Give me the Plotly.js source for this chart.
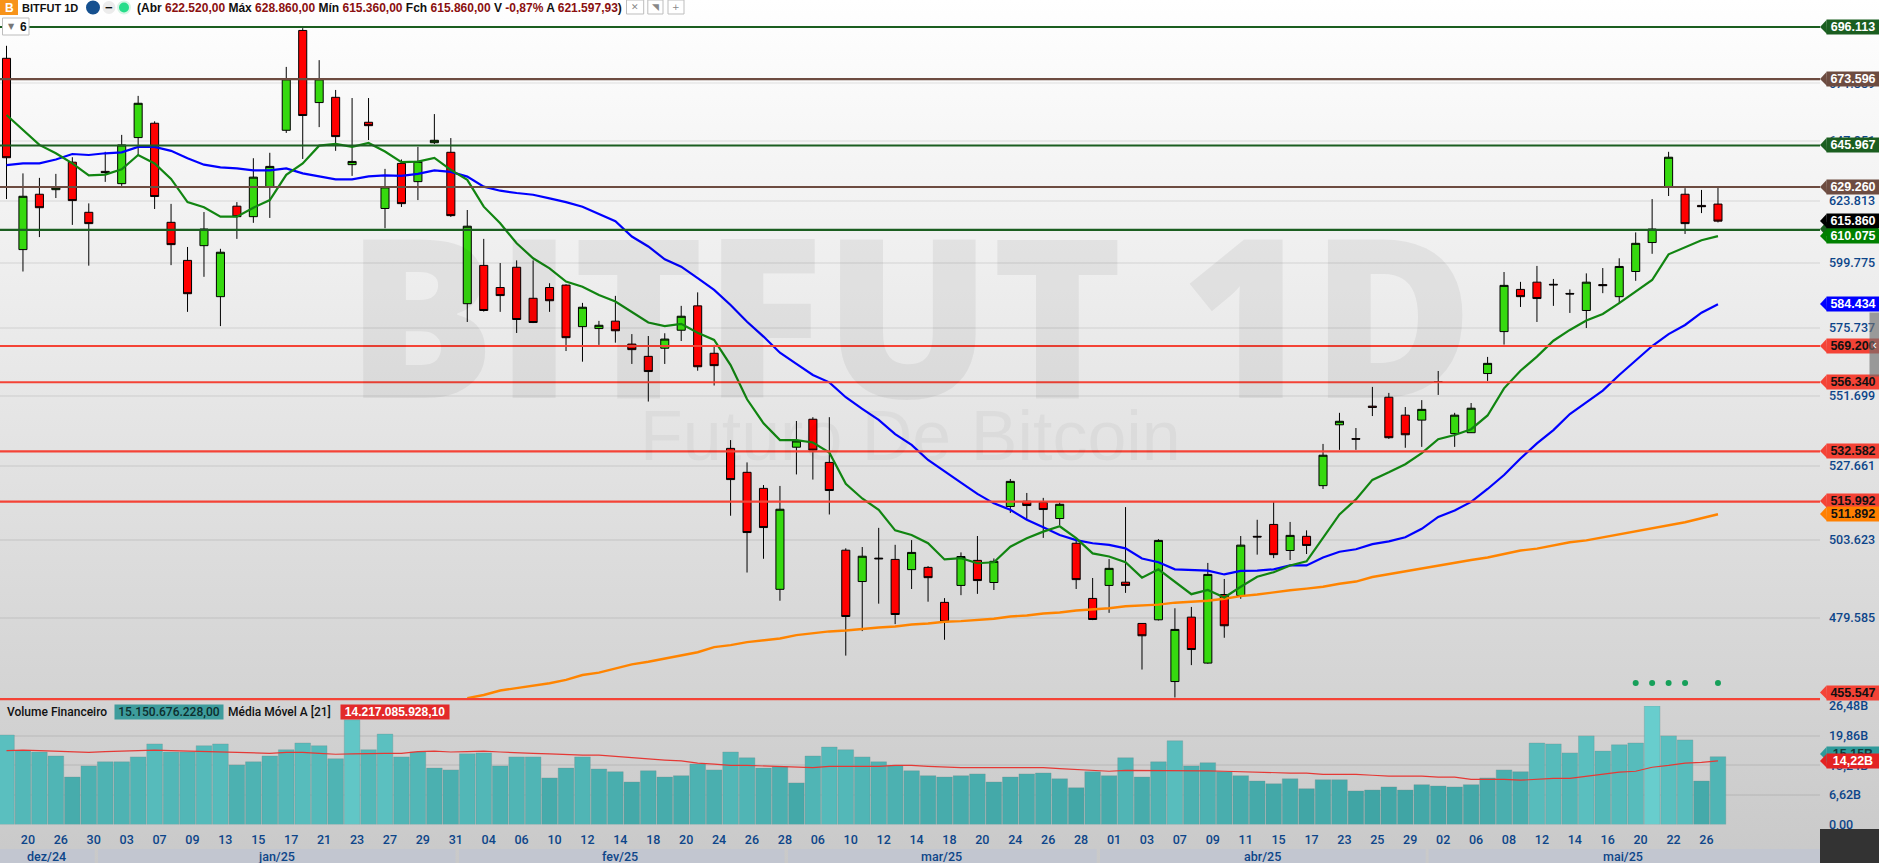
<!DOCTYPE html>
<html><head><meta charset="utf-8">
<script src="https://cdn.plot.ly/plotly-3.0.1.min.js"></script>
<style>html,body{margin:0;padding:0;overflow:hidden;background:#fff}
#c{width:1879px;height:863px;background:linear-gradient(#ffffff 0,#c9c9c9 863px)}</style>
</head><body><div id="c"></div>
<script>
const open_ = [682.5,604.9,626.4,628.2,639.2,619.3,635.5,630.6,649.2,655.1,615.4,600.8,606.4,587.2,621.7,617.6,629.1,652.2,694.6,663.7,665.9,638.2,655.5,620.8,638.7,631.4,647.1,643.2,584.6,598.9,590.6,598.2,586.6,590.6,591.5,576.2,575.5,578.2,569.9,565.5,568.4,574.9,583.8,566.6,533.6,525.6,520.3,488.2,534.0,543.5,528.9,500.4,490.6,497.9,497.5,494.3,495.0,484.2,489.4,497.2,490.3,514.4,516.1,515.7,510.5,502.6,485.4,489.4,490.4,477.8,478.9,460.6,479.7,466.0,486.6,486.3,504.8,508.6,500.3,504.8,521.2,541.6,536.9,548.0,551.1,544.9,543.2,556.5,538.6,538.9,559.4,574.4,589.9,592.6,591.8,588.4,582.1,591.7,587.2,596.6,607.6,629.4,626.4,622.0,622.52];
const high = [687.9,634.7,632.9,634.5,641.2,622.8,643.4,650.3,666.5,655.9,622.6,605.9,619.4,605.2,623.3,640.8,643.0,678.8,695.6,681.7,669.0,665.6,665.6,636.5,640.3,645.4,658.9,649.0,620.2,609.0,599.8,600.8,600.8,592.2,591.8,584.9,578.3,587.5,573.5,572.8,573.8,583.8,588.8,569.6,536.4,528.9,521.4,521.1,542.9,544.2,544.2,501.0,501.4,507.5,502.1,503.6,495.4,485.5,499.7,504.9,497.8,523.4,518.8,517.2,515.7,503.6,491.7,497.6,514.2,477.9,503.9,482.4,482.8,496.4,491.4,504.9,510.1,515.9,509.4,506.7,535.1,545.7,540.5,554.7,552.6,547.7,550.1,560.3,545.7,549.1,565.3,596.4,592.7,598.7,593.8,589.9,595.9,597.9,601.6,611.5,624.5,643.4,628.8,628.1,628.86];
const low = [624.5,596.6,609.7,624.9,614.4,598.8,631.3,629.7,642.1,620.6,599.0,581.6,594.6,576.4,609.0,615.2,617.1,651.1,640.5,653.5,643.8,633.7,648.2,613.1,621.4,624.1,646.6,617.5,577.9,581.7,581.6,573.9,577.5,581.6,567.4,563.6,569.6,570.4,562.8,549.6,562.8,571.0,560.4,555.2,511.4,493.4,497.7,484.7,524.9,523.2,511.8,468.2,475.5,483.8,477.6,488.3,484.4,472.9,486.4,486.8,488.0,512.3,510.1,504.3,508.4,488.3,478.8,481.0,487.1,464.1,478.7,456.0,465.4,465.8,473.5,485.3,499.0,497.9,497.3,499.2,520.1,533.1,533.1,544.6,536.8,533.8,534.1,551.9,534.1,538.8,556.8,569.7,583.4,577.9,583.8,581.2,575.7,588.5,584.7,593.1,603.3,625.7,610.9,619.0,615.36];
const close_ = [641.0,625.6,621.1,629.0,623.9,614.9,635.0,646.2,663.4,625.5,606.8,588.3,612.8,603.9,617.6,633.2,637.5,673.7,658.3,673.7,649.6,639.5,654.1,629.3,622.7,639.5,648.1,618.0,613.9,582.1,587.6,578.8,577.7,585.7,572.2,583.3,576.7,574.7,567.9,560.1,571.7,580.0,561.8,562.2,523.2,506.0,507.6,513.5,536.1,533.0,519.6,479.9,498.5,497.7,480.5,499.7,491.8,478.3,498.4,490.9,496.9,522.6,514.7,513.4,515.1,491.2,479.0,494.7,489.4,474.1,503.5,476.0,470.0,492.8,477.1,502.0,504.6,499.0,505.1,501.9,531.3,542.8,536.7,547.6,537.2,538.2,546.9,556.3,544.9,547.3,563.0,591.4,587.2,586.5,591.6,588.2,592.6,591.3,598.5,607.3,612.8,641.2,614.9,621.5,615.86];
const maGreen = [658.5,652.3,646.2,642.8,638.7,633.9,634.2,636.3,642.1,638.7,632.5,623.3,621.3,617.6,617.6,621.1,624.1,634.1,638.7,645.9,646.6,645.4,647.0,643.5,639.2,639.4,640.9,636.1,632.1,621.5,615.0,607.3,601.6,597.8,592.8,590.9,587.8,585.4,581.5,577.7,576.4,577.2,574.0,571.4,562.4,550.4,542.1,536.4,536.4,535.6,532.2,521.8,517.0,513.3,506.7,505.2,502.6,497.5,497.9,496.3,496.6,501.5,504.2,506.3,508.0,504.2,499.4,498.4,496.6,491.8,494.4,490.6,486.7,488.0,485.7,489.0,492.1,493.5,495.6,496.9,504.2,511.8,516.7,523.1,525.6,528.3,532.0,536.7,538.1,540.1,544.8,554.2,560.4,565.4,571.1,575.0,578.4,580.8,584.8,589.1,593.4,603.1,605.7,608.5,610.075];
const maBlue = [638.0,638.7,638.7,640.3,642.5,642.1,642.8,643.2,645.4,645.4,643.8,640.8,638.2,637.1,636.7,635.9,635.9,636.7,634.7,633.4,632.3,632.3,633.5,633.9,633.7,634.5,635.9,635.3,633.4,629.4,627.8,626.9,626.2,624.8,623.3,621.5,618.7,615.8,609.9,606.1,601.2,598.4,594.1,589.7,584.1,578.0,572.6,566.8,562.8,558.9,556.3,551.1,547.1,543.3,538.4,534.8,529.7,525.8,522.2,518.5,515.4,513.3,510.1,507.7,505.2,503.6,502.6,502.1,501.0,497.8,496.6,494.4,494.2,494.0,492.8,493.9,494.0,494.4,495.6,495.6,498.1,499.9,500.7,502.3,503.2,504.5,507.2,511.0,513.1,515.9,520.1,524.7,530.2,535.3,539.8,545.3,549.3,553.4,558.9,564.0,569.2,573.5,576.8,581.3,584.434];
const maOrange = [null,null,null,null,null,null,null,null,null,null,null,null,null,null,null,null,null,null,null,null,null,null,null,null,null,null,null,null,455.8,456.7,458.0,458.7,459.3,460.1,461.1,462.5,463.2,464.5,465.6,466.4,467.4,468.4,469.2,470.7,471.3,472.2,472.7,473.3,474.3,474.9,475.4,475.7,476.2,476.6,476.9,477.5,477.8,478.3,478.5,478.8,479.2,479.9,480.2,480.8,481.1,481.7,482.0,482.4,483.0,483.2,483.5,484.1,484.4,484.7,485.3,486.1,486.6,487.3,487.9,488.4,489.0,489.9,490.6,492.0,492.9,493.9,494.7,495.5,496.4,497.3,498.1,499.2,500.3,500.9,501.9,502.9,503.5,504.5,505.4,506.4,507.3,508.3,509.3,510.6,511.892];
const volume = [20.0,16.5,16.2,15.3,10.6,13.1,14.0,14.0,15.1,18.0,16.2,16.2,17.6,18.0,13.3,14.0,15.3,16.7,18.2,17.6,14.7,23.4,16.7,20.2,15.1,16.2,12.6,12.2,15.8,16.0,13.1,15.1,15.1,10.4,12.6,15.1,12.4,11.8,9.5,12.0,10.6,10.9,13.5,12.2,16.2,14.9,12.6,12.9,9.3,15.3,17.3,16.7,15.1,14.0,13.1,12.0,10.9,10.6,10.9,11.3,9.5,10.6,11.3,11.5,10.2,8.2,11.8,10.9,14.9,10.6,14.0,18.7,13.1,13.8,11.8,10.9,9.7,9.1,10.2,8.0,10.0,10.0,7.5,7.7,8.4,7.7,8.9,8.6,8.4,8.9,10.4,12.2,11.8,18.2,18.0,16.0,19.8,16.4,17.8,18.2,26.48,19.8,18.9,9.7,15.15];
const volumeMA = [16.5,16.6,16.5,16.4,16.3,16.1,16.3,16.4,16.5,16.6,16.5,16.4,16.3,16.2,16.1,15.9,15.9,16.1,16.1,15.9,15.7,15.8,15.9,15.9,15.9,16.3,16.4,16.2,16.3,16.4,16.2,16.0,15.9,15.8,15.6,15.5,15.5,15.2,14.9,14.7,14.4,14.2,13.7,13.5,13.2,13.2,13.1,12.9,12.8,12.7,13.0,13.0,13.0,13.0,13.2,13.2,13.0,12.8,12.7,12.7,12.7,12.7,12.7,12.7,12.5,12.3,12.0,11.9,12.1,12.1,12.1,12.1,12.1,12.0,11.9,11.8,11.7,11.5,11.5,11.5,11.2,11.2,11.2,11.0,10.8,10.8,10.8,10.6,10.6,10.1,10.1,10.1,9.9,10.1,10.3,10.3,10.8,11.2,11.7,11.9,12.8,13.2,13.7,13.9,14.22];
const dotIndex = [99,100,101,102,104];
const dotValue = [460.2,460.2,460.2,460.2,460.2];
const levelValues = [696.113,673.596,645.967,629.26,612.5,569.2,556.34,532.582,515.992,455.547];
const levelColors = ['#1b5e20','#6d4c41','#1b5e20','#6d4c41','#1b5e20','#f44336','#f44336','#f44336','#f44336','#f44336'];
const gridPrices = [671.889,647.851,623.813,599.775,575.737,551.699,527.661,503.623,479.585];
const gridLabels = ['671.889','647.851','623.813','599.775','575.737','551.699','527.661','503.623','479.585'];
const volTicks = [0,6.62,13.24,19.86,26.48];
const volTickLabels = ['0,00','6,62B','13,24B','19,86B','26,48B'];
const dateLabels = ['20','26','30','03','07','09','13','15','17','21','23','27','29','31','04','06','10','12','14','18','20','24','26','28','06','10','12','14','18','20','24','26','28','01','03','07','09','11','15','17','23','25','29','02','06','08','12','14','16','20','22','26'];
const monthLabels = ['dez/24','jan/25','fev/25','mar/25','abr/25','mai/25'];
const monthStart = [0,98,459,788,1100,1428.6];
const monthEnd = [94.7,455.5,784.5,1096.7,1425.7,1820];
const monthCenter = [46.5,276,620.4,941.6,1262,1623];
const tagText = ['696.113','673.596','645.967','629.260','615.860','610.075','584.434','569.200','556.340','532.582','515.992','511.892','455.547','15,15B','14,22B'];
const tagY = [27,79,145,187,221,236,304,346,382,451,501,514,692.5,754,761];
const tagBg = ['#1b5e20','#6d4c41','#1b5e20','#6d4c41','#000000','#008000','#0000ff','#f44336','#f44336','#f44336','#f44336','#ff8000','#f44336','#2f9a9a','#e32222'];
const tagFg = ['#fff','#fff','#fff','#fff','#fff','#fff','#fff','#111','#111','#111','#111','#111','#111','#103a3a','#fff'];

const W = 1879, H = 863;
const px = x => x / W, py = y => 1 - y / H;
const idx = open_.map((_, i) => i);
const font = "'Liberation Sans', Arial, sans-serif";
const tickFont = "Roboto, 'Liberation Sans', sans-serif";
const blueText = '#0d4589';
const plotRight = 1820, priceBottom = 706, volBottom = 824.5;

const traces = [
  {type:'candlestick', x:idx, open:open_, high:high, low:low, close:close_, xaxis:'x', yaxis:'y',
   width:0.64, whiskerwidth:0,
   increasing:{line:{color:'#000',width:1}, fillcolor:'#36d90f'},
   decreasing:{line:{color:'#000',width:1}, fillcolor:'#ff0000'}, hoverinfo:'skip'},
  {type:'scatter', mode:'lines', x:idx, y:maOrange, line:{color:'#ff8400',width:2.4}, xaxis:'x', yaxis:'y', connectgaps:false, hoverinfo:'skip'},
  {type:'scatter', mode:'lines', x:idx, y:maBlue, line:{color:'#0000ff',width:2.2}, xaxis:'x', yaxis:'y', hoverinfo:'skip'},
  {type:'scatter', mode:'lines', x:idx, y:maGreen, line:{color:'#118511',width:2.2}, xaxis:'x', yaxis:'y', hoverinfo:'skip'},
  {type:'scatter', mode:'markers', x:dotIndex, y:dotValue, marker:{color:'#16a05a',size:6}, xaxis:'x', yaxis:'y', hoverinfo:'skip'},
  {type:'bar', x:idx, y:volume, width:0.95, xaxis:'x', yaxis:'y2', hoverinfo:'skip',
   marker:{color:volume, colorscale:[[0,'#3fa4a4'],[1,'#68cdcd']], cmin:7, cmax:26.5, showscale:false,
           line:{color:'rgba(110,140,140,0.55)',width:0.6}}},
  {type:'scatter', mode:'lines', x:idx, y:volumeMA, line:{color:'#e53935',width:1.2}, xaxis:'x', yaxis:'y2', hoverinfo:'skip'}
];
levelValues.forEach((v,i)=>traces.push({type:'scatter', mode:'lines', x:[-1,112], y:[v,v],
  line:{color:levelColors[i],width:2.2}, xaxis:'x', yaxis:'y', hoverinfo:'skip'}));

const shapes = [], annotations = [];
function rectPx(x0,y0,x1,y1,fill,line,layer){shapes.push({type:'rect',xref:'paper',yref:'paper',x0:px(x0),x1:px(x1),y0:py(y0),y1:py(y1),fillcolor:fill,line:line?{color:line,width:1}:{width:0},layer:layer||'above'});}
function circlePx(cx,cy,r,fill){shapes.push({type:'circle',xref:'paper',yref:'paper',x0:px(cx-r),x1:px(cx+r),y0:py(cy-r),y1:py(cy+r),fillcolor:fill,line:{width:0},layer:'above'});}
function textPx(x,y,t,o){annotations.push(Object.assign({xref:'paper',yref:'paper',x:px(x),y:py(y),text:t,showarrow:false,xanchor:'left',yanchor:'middle',borderpad:0,font:{family:font,size:12.5,color:'#111'}},o||{}));}

// watermarks
textPx(910,312,'BITFUT 1D',{xanchor:'center',font:{family:"'Open Sans'",size:222,color:'rgba(0,0,0,0.055)',weight:800}});
textPx(910,436,'Futuro De Bitcoin',{xanchor:'center',font:{family:"'Liberation Sans'",size:70,color:'rgba(0,0,0,0.035)'}});

// header
rectPx(0,0,18,15,'#f7931a');
textPx(9,7.5,'B',{xanchor:'center',font:{family:font,size:12,color:'#fff',weight:700}});
textPx(21,7.5,'BITFUT 1D',{font:{family:font,size:11,color:'#111',weight:700}});
circlePx(93,7.5,7,'#15508f');
circlePx(109,7.5,6.5,'#ececec');
textPx(109,7,'−',{xanchor:'center',font:{family:font,size:13,color:'#111',weight:700}});
circlePx(124,7.5,7,'#d8f5e6');
circlePx(124,7.5,5,'#27dd8a');
const val = s => `<span style="color:#8b1010">${s}</span>`;
textPx(136,7.5,`(Abr ${val('622.520,00')} Máx ${val('628.860,00')} Mín ${val('615.360,00')} Fch ${val('615.860,00')} V ${val('-0,87%')} A ${val('621.597,93')})`,{font:{family:font,size:12,color:'#111',weight:700}});
[[626.5,643.7,'✕'],[647.8,663,'◥'],[668,684,'+']].forEach(b=>{
  rectPx(b[0],0,b[1],14,'#fff','#bdbdbd');
  textPx((b[0]+b[1])/2,7,b[2],{xanchor:'center',font:{family:"'DejaVu Sans'",size:9,color:'#888'}});
});
rectPx(2.5,18,29,35,'#fff','#bdbdbd');
textPx(7,27,'▼',{font:{family:"'DejaVu Sans'",size:8,color:'#777'}});
textPx(19,27,'6',{font:{family:font,size:12,color:'#111',weight:700}});

// tags
shapes.push({type:'path',xref:'paper',yref:'paper',layer:'above',fillcolor:'#1b5e20',line:{width:0},
  path:`M${px(1820)},${py(229)} L${px(1826)},${py(222)} L${px(1878)},${py(222)} L${px(1878)},${py(236)} L${px(1826)},${py(236)} Z`});
tagText.forEach((t,i)=>{
  const y=tagY[i];
  shapes.push({type:'path',xref:'paper',yref:'paper',layer:'above',fillcolor:tagBg[i],line:{width:0},
    path:`M${px(1820)},${py(y)} L${px(1826.5)},${py(y-7)} L${px(1827)},${py(y+7)} Z`});
  textPx(1826,y,t,{width:52,height:14,align:'center',bgcolor:tagBg[i],font:{family:font,size:12.5,color:tagFg[i],weight:700}});
});
annotations.push({xref:'paper',yref:'paper',x:px(1868.6),y:py(344.5),text:'‹',showarrow:false,xanchor:'left',yanchor:'middle',width:9.5,height:63,borderpad:0,bgcolor:'rgba(110,110,110,0.65)',font:{family:font,size:12,color:'#fff'}});

// volume header
textPx(6,712,'Volume Financeiro',{font:{family:tickFont,size:12,color:'#111',weight:500}});
textPx(113.5,712,'15.150.676.228,00',{width:108,height:14,align:'center',bgcolor:'#3d9c9c',font:{family:tickFont,size:12,color:'#0c2e2e',weight:500}});
textPx(226.5,712,'Média Móvel A [21]',{font:{family:tickFont,size:12,color:'#111',weight:500}});
textPx(340,712,'14.217.085.928,10',{width:108,height:14,align:'center',bgcolor:'#e32a2a',font:{family:font,size:12,color:'#fff',weight:700}});

// month bands
monthLabels.forEach((m,i)=>{
  rectPx(monthStart[i],849,monthEnd[i],863,'#c2c6d0',null,'below');
  textPx(monthCenter[i],856,m,{xanchor:'center',font:{family:tickFont,size:12.5,color:blueText,weight:500}});
});
rectPx(1820,829,1879,863,'#333333');

const tickIdx = dateLabels.map((_,k)=>1+2*k);
const tickF = {family:tickFont,size:12.5,color:blueText,weight:500};
const layout = {
  width:W, height:H, margin:{l:0,r:0,t:0,b:0}, showlegend:false, dragmode:false, bargap:0,
  paper_bgcolor:'rgba(0,0,0,0)', plot_bgcolor:'rgba(0,0,0,0)',
  xaxis:{domain:[0,plotRight/W], range:[-0.395,110.2], type:'linear', anchor:'y2', rangeslider:{visible:false},
    showgrid:false, zeroline:false, showline:false, tickmode:'array', tickvals:tickIdx.map(i=>i+0.3), ticktext:dateLabels,
    ticks:'', ticklabelstandoff:6, tickangle:0, tickfont:tickF, fixedrange:true},
  yaxis:{domain:[py(priceBottom),1], type:'log', range:[Math.log10(453.55),Math.log10(708.07)], anchor:'x', side:'right',
    showgrid:true, gridcolor:'rgba(0,0,0,0.055)', gridwidth:2, zeroline:false, showline:false, tickmode:'array',
    tickvals:gridPrices, ticktext:gridLabels, ticks:'', ticklabelstandoff:8, tickfont:tickF, fixedrange:true},
  yaxis2:{domain:[py(volBottom),py(priceBottom)], range:[0,26.48], anchor:'x', side:'right',
    showgrid:true, gridcolor:'rgba(0,0,0,0.055)', gridwidth:2, zeroline:false, showline:false, tickmode:'array',
    tickvals:volTicks, ticktext:volTickLabels, ticks:'', ticklabelstandoff:8, tickfont:tickF, fixedrange:true},
  shapes:shapes, annotations:annotations
};
Plotly.newPlot('c', traces, layout, {displayModeBar:false, staticPlot:true});
</script></body></html>
